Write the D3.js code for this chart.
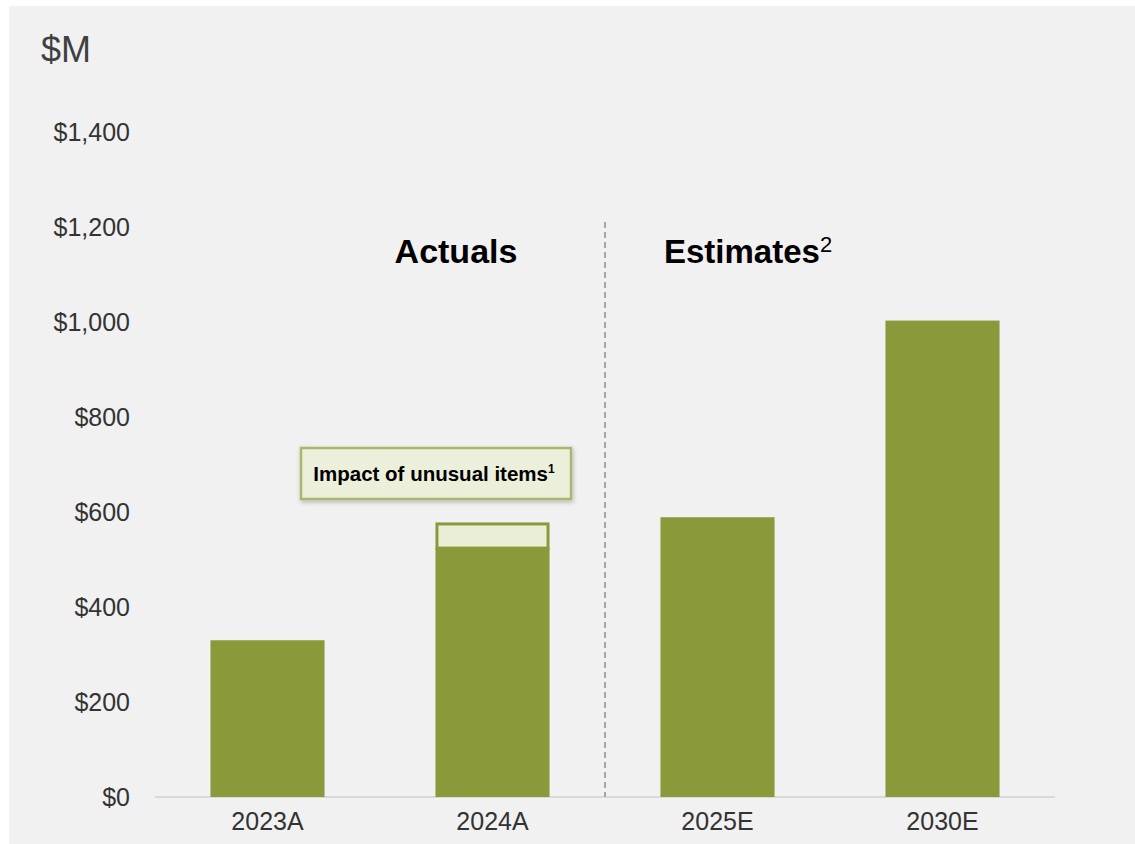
<!DOCTYPE html>
<html><head><meta charset="utf-8">
<script src="https://cdn.jsdelivr.net/npm/d3@7"></script>
<style>
html,body{margin:0;padding:0;background:#fff;}
svg{display:block;font-family:"Liberation Sans",Arial,sans-serif;}
</style></head>
<body><svg id="c" width="1135" height="844"></svg>
<script>
const categories = ["2023A","2024A","2025E","2030E"];
const baseValues = [330, 524, 589, 1003];
const unusualItems = [0, 54, 0, 0];
const yTicks = [0,200,400,600,800,1000,1200,1400];
const unit = "$M";

const svg = d3.select("#c");
svg.append("rect").attr("x",9).attr("y",6).attr("width",1126).attr("height",838).attr("fill","#f1f1f1");

const x = d3.scaleBand().domain(categories).range([155,1055]).paddingInner(0.493).paddingOuter(0.2465);
const y = d3.scaleLinear().domain([0,1400]).range([797,132]);

const defs = svg.append("defs");
const f = defs.append("filter").attr("id","sh").attr("x","-10%").attr("y","-30%").attr("width","120%").attr("height","160%");
f.append("feDropShadow").attr("dx",1).attr("dy",2).attr("stdDeviation",2).attr("flood-color","#000").attr("flood-opacity",0.25);

// y labels
const yAxis = d3.axisLeft(y).tickValues(yTicks).tickSize(0).tickPadding(0).tickFormat(d => "$" + d3.format(",")(d));
const ga = svg.append("g").attr("transform","translate(130,0)").call(yAxis);
ga.select(".domain").remove();
ga.selectAll("text").attr("font-size",25).attr("fill","#333").attr("font-family","Liberation Sans, Arial, sans-serif").attr("dy","0.35em");

// baseline
svg.append("line").attr("x1",155).attr("x2",1055).attr("y1",y(0)).attr("y2",y(0)).attr("stroke","#d9d9d9").attr("stroke-width",2);

// bars
svg.selectAll("rect.bar").data(categories).join("rect").attr("class","bar")
  .attr("x",d=>x(d)).attr("width",x.bandwidth())
  .attr("y",(d,i)=>y(baseValues[i])).attr("height",(d,i)=>y(0)-y(baseValues[i]))
  .attr("fill","#8a9a3b");

// unusual segments
categories.forEach((d,i)=>{
  if(unusualItems[i]>0){
    const top = y(baseValues[i]+unusualItems[i]);
    const bot = y(baseValues[i]);
    svg.append("rect").attr("x",x(d)+1.5).attr("y",top+1.5).attr("width",x.bandwidth()-3).attr("height",bot-top-1.5)
      .attr("fill","#ebeed6").attr("stroke","#8a9a3b").attr("stroke-width",3);
  }
});

// category labels
const xAxis = d3.axisBottom(x).tickSize(0).tickPadding(0);
const gx = svg.append("g").attr("transform","translate(0,"+(y(0))+")").call(xAxis);
gx.select(".domain").remove();
gx.selectAll("text").attr("font-size",25).attr("fill","#333").attr("font-family","Liberation Sans, Arial, sans-serif").attr("dy","1.3em");

// unit label
svg.append("text").attr("x",41).attr("y",62).attr("font-size",36).attr("fill","#404040").text(unit);

// divider
const divX = (x(categories[1])+x.bandwidth()+x(categories[2]))/2;
svg.append("line").attr("x1",divX).attr("x2",divX).attr("y1",222).attr("y2",y(0)).attr("stroke","#a6a6a6").attr("stroke-width",2).attr("stroke-dasharray","6,4");

// section titles
svg.append("text").attr("x",456).attr("y",263).attr("text-anchor","middle").attr("font-size",34).attr("font-weight","bold").attr("fill","#000").text("Actuals");
const est = svg.append("text").attr("x",664).attr("y",263).attr("font-size",33).attr("fill","#000");
est.append("tspan").attr("font-weight","bold").text("Estimates");
est.append("tspan").attr("font-size",22).attr("dy",-11).text("2");

// callout box
svg.append("rect").attr("x",301).attr("y",448).attr("width",270).attr("height",51)
  .attr("fill","#ecefd9").attr("stroke","#aab66d").attr("stroke-width",2.5).attr("filter","url(#sh)");
const ct = svg.append("text").attr("x",434).attr("y",481).attr("text-anchor","middle").attr("font-size",20.5).attr("font-weight","bold").attr("fill","#000");
ct.append("tspan").text("Impact of unusual items");
ct.append("tspan").attr("font-size",12).attr("dy",-8).text("1");
</script></body></html>
